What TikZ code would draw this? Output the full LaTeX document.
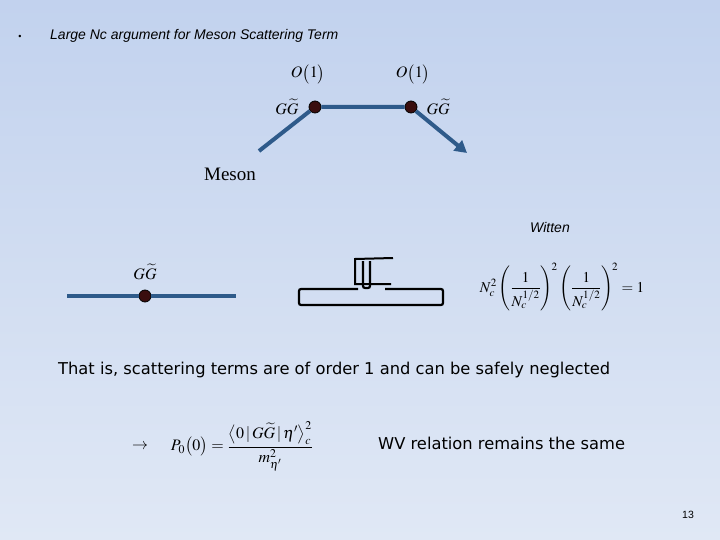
\documentclass[tikz,border=0pt]{standalone}
\usepackage{amsmath}
\usepackage{mathptmx}
\usepackage{fontspec}
\setmainfont{Liberation Serif}
\setsansfont{Liberation Sans}
\newfontfamily\slidefont{DejaVu Sans}
\usetikzlibrary{arrows.meta, positioning, calc}
\definecolor{bgtop}{HTML}{C2D2EE}
\definecolor{bgbot}{HTML}{E0E8F5}
\definecolor{lineblue}{HTML}{2E5A8A}
\definecolor{dotred}{HTML}{3A0E0E}

\begin{document}
\begin{tikzpicture}[
    x=1pt, y=-1pt,
    gline/.style={draw=lineblue, line width=4pt},
    vertex/.style={circle, fill=dotred, draw=black, thick, inner sep=0pt, minimum size=12pt},
    lbl/.style={font=\fontsize{16}{19}\selectfont, inner sep=0pt},
    body/.style={font=\slidefont\fontsize{16.3}{19}\selectfont, inner sep=0pt, anchor=west},
    glyph/.style={line width=2.2pt, rounded corners=2pt}
]
    \useasboundingbox (0,0) rectangle (720,540);
    \shade[top color=bgtop, bottom color=bgbot] (0,0) rectangle (720,540);

    % Heading
    \node[font=\sffamily\small] (bullet) at (20,37) {\textbullet};
    \node[anchor=west, inner sep=0pt, font=\sffamily\itshape\fontsize{14}{16}\selectfont] (title) at (50,36) {Large Nc argument for Meson Scattering Term};

    % Scattering diagram
    \coordinate (in) at (259,151);
    \coordinate (out) at (467,153);
    \node[vertex] (v1) at (315,107) {};
    \node[vertex] (v2) at (411,107) {};
    \draw[gline] (in) -- (v1) -- (v2);
    \draw[gline, -{Triangle[length=12pt, width=13pt]}] (v2) -- (out);

    \node[lbl] (o1) at (308,74) {$O\bigl(1\bigr)$};
    \node[lbl] (o2) at (413,74) {$O\bigl(1\bigr)$};
    \node[lbl, left=10pt of v1] (gg1) {$G\widetilde{G}$};
    \node[lbl, right=9pt of v2] (gg2) {$G\widetilde{G}$};
    \node[font=\fontsize{19}{22}\selectfont, inner sep=0pt] (meson) at (230,174) {Meson};

    \node[font=\sffamily\itshape\fontsize{14}{16}\selectfont] (witten) at (550,227) {Witten};

    % Single insertion
    \coordinate (l1) at (67,296);
    \coordinate (l2) at (236,296);
    \node[vertex] (v3) at (145,296) {};
    \draw[gline] (l1) -- (v3) -- (l2);
    \node[lbl] (gg3) at (145,272) {$G\widetilde{G}$};

    % Broken symbol
    \draw[glyph] (358,289) -- (299,289) -- (299,305) -- (443,305) -- (443,289) -- (385,289);
    \draw[line width=2pt] (393,258) -- (355,259) -- (355,284) -- (391,284);
    \draw[glyph] (363,261) -- (363,288) -- (370,288) -- (370,261);

    \node[font=\fontsize{15}{18}\selectfont, inner sep=0pt] (counting) at (562,287) {$N_c^2\left(\dfrac{1}{N_c^{1/2}}\right)^{\!2}\left(\dfrac{1}{N_c^{1/2}}\right)^{\!2}=1$};

    % Conclusion
    \node[body] (neglect) at (58,370) {That is, scattering terms are of order 1 and can be safely neglected};
    \node[lbl] (arrow) at (140,447) {$\rightarrow$};
    \node[lbl] (pzero) at (242,446) {$P_0\bigl(0\bigr)=\dfrac{\bigl\langle 0\,|\,G\widetilde{G}\,|\,\eta'\bigr\rangle_c^2}{m_{\eta'}^2}$};
    \node[body] (wv) at (378,443) {WV relation remains the same};

    \node[font=\sffamily\fontsize{10.5}{12}\selectfont] (page) at (688,515) {13};
\end{tikzpicture}
\end{document}
